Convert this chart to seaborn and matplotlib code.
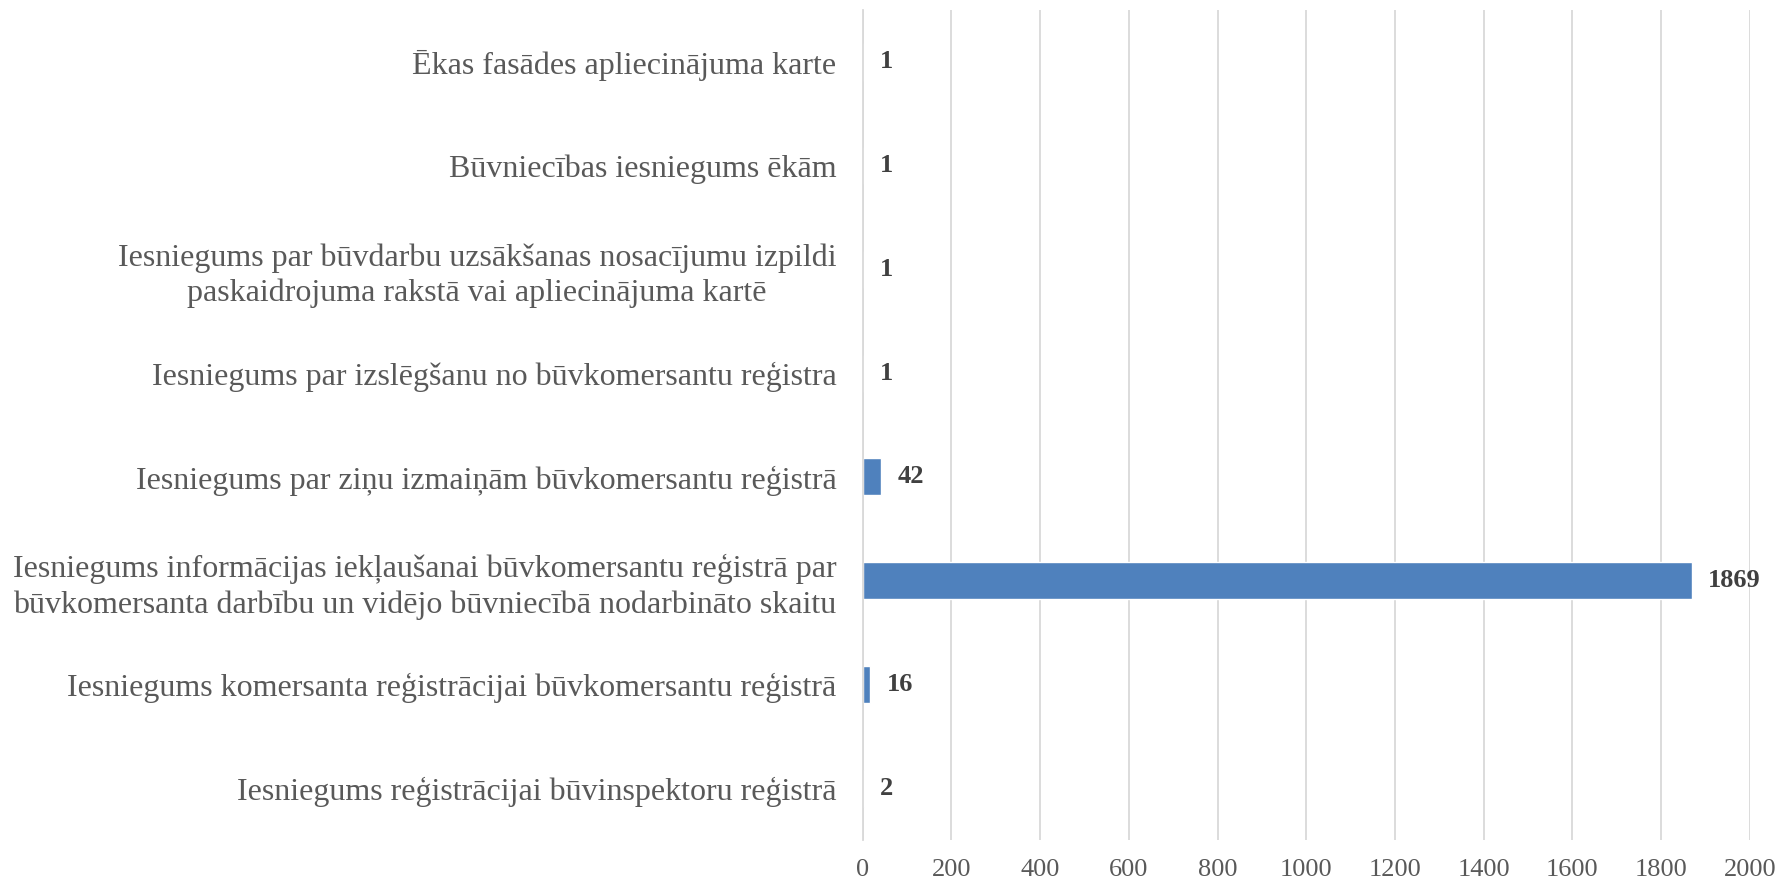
import pandas as pd
import seaborn as sns
import matplotlib.pyplot as plt

# Dati
kategorijas = [
    "Ēkas fasādes apliecinājuma karte",
    "Būvniecības iesniegums ēkām",
    "Iesniegums par būvdarbu uzsākšanas nosacījumu izpildi\npaskaidrojuma rakstā vai apliecinājuma kartē",
    "Iesniegums par izslēgšanu no būvkomersantu reģistra",
    "Iesniegums par ziņu izmaiņām būvkomersantu reģistrā",
    "Iesniegums informācijas iekļaušanai būvkomersantu reģistrā par\nbūvkomersanta darbību un vidējo būvniecībā nodarbināto skaitu",
    "Iesniegums komersanta reģistrācijai būvkomersantu reģistrā",
    "Iesniegums reģistrācijai būvinspektoru reģistrā",
]
skaits = [1, 1, 1, 1, 42, 1869, 16, 2]
x_ticks = [0, 200, 400, 600, 800, 1000, 1200, 1400, 1600, 1800, 2000]

df = pd.DataFrame({"kategorija": kategorijas, "skaits": skaits})

sns.set_style("white")
plt.rcParams["font.family"] = ["Liberation Serif", "DejaVu Serif"]

fig = plt.figure(figsize=(17.77, 8.8), dpi=100)
ax = fig.add_axes([0.4855, 0.0455, 0.4992, 0.943])

sns.barplot(data=df, x="skaits", y="kategorija", orient="h", color="#4F81BD",
            width=0.357, saturation=1, ax=ax)

ax.set_xlim(0, 2000)
ax.set_xticks(x_ticks)
ax.set_xlabel("")
ax.set_ylabel("")
ax.grid(axis="x", color="#D9D9D9", linewidth=1.3)
ax.set_axisbelow(True)
for s in ["top", "right", "bottom"]:
    ax.spines[s].set_visible(False)
ax.spines["left"].set_color("#D9D9D9")
ax.spines["left"].set_linewidth(1.3)
ax.tick_params(axis="y", length=0, pad=19, labelsize=23, labelcolor="#595959")
ax.tick_params(axis="x", length=0, pad=14, labelsize=19, labelcolor="#595959")
for lbl in ax.get_yticklabels():
    lbl.set_horizontalalignment("right")
    lbl.set_multialignment("center")
    lbl.set_linespacing(1.25)

for i, v in enumerate(skaits):
    ax.annotate(str(v), xy=(v, i), xytext=(12, 0), textcoords="offset points",
                va="center", ha="left", fontsize=19, fontweight="bold", color="#404040")

fig.savefig("out.png", dpi=100)
